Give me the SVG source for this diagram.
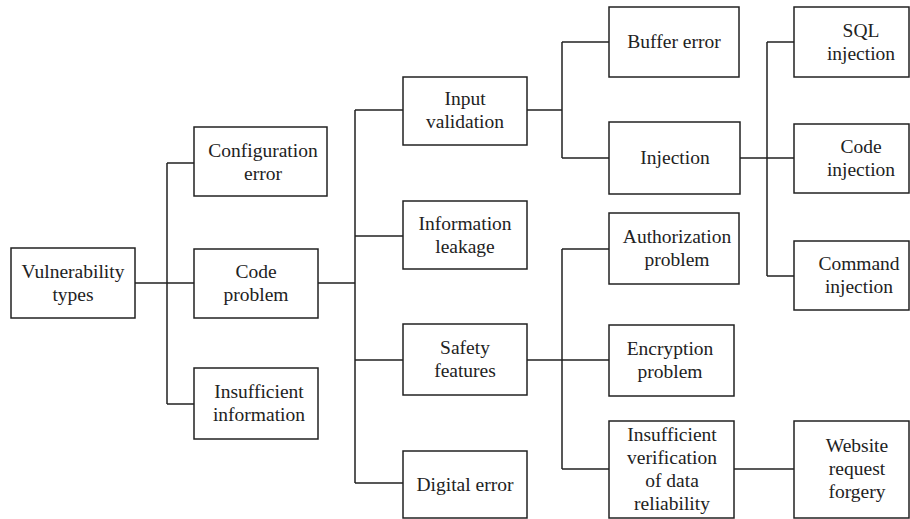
<svg xmlns="http://www.w3.org/2000/svg" width="910" height="519" viewBox="0 0 910 519">
<style>
rect{fill:#fff;stroke:#222;stroke-width:1.5}
text{font-family:'Liberation Serif','Times New Roman',serif;font-size:19.5px;fill:#222;text-anchor:middle}
.c path{fill:none;stroke:#222;stroke-width:1.5}
</style>
<rect x="0" y="0" width="910" height="519" style="fill:#fff;stroke:none"/>
<g class="c" id="connectors">
<path d="M135,283H194M167,163V404M167,163H194M167,404H194"/>
<path d="M318,283H355M355,110V483M355,110H403M355,236H403M355,360H403M355,483H403"/>
<path d="M527,110H562M562,42V158M562,42H609M562,158H609"/>
<path d="M527,360H609M562,249V469M562,249H609M562,469H609"/>
<path d="M740,158H794M767,42V276M767,42H794M767,276H794"/>
<path d="M734,469H794"/>
</g>
<g id="vt"><rect x="11" y="248" width="124" height="70"/><text x="73" y="278">Vulnerability</text><text x="73" y="301">types</text></g>
<g id="cfg"><rect x="194" y="127" width="133" height="69"/><text x="263" y="157">Configuration</text><text x="263" y="180">error</text></g>
<g id="code"><rect x="194" y="249" width="124" height="69"/><text x="256" y="278">Code</text><text x="256" y="301">problem</text></g>
<g id="insuf"><rect x="194" y="368" width="124" height="71"/><text x="259" y="398">Insufficient</text><text x="259" y="421">information</text></g>
<g id="input"><rect x="403" y="77" width="124" height="68"/><text x="465" y="105">Input</text><text x="465" y="128">validation</text></g>
<g id="leak"><rect x="403" y="201" width="124" height="68"/><text x="465" y="230">Information</text><text x="465" y="253">leakage</text></g>
<g id="safety"><rect x="403" y="324" width="124" height="71"/><text x="465" y="354">Safety</text><text x="465" y="377">features</text></g>
<g id="digital"><rect x="403" y="451" width="124" height="67"/><text x="465" y="491">Digital error</text></g>
<g id="buffer"><rect x="609" y="7" width="130" height="70"/><text x="674" y="48">Buffer error</text></g>
<g id="injection"><rect x="609" y="122" width="131" height="72"/><text x="675" y="164">Injection</text></g>
<g id="auth"><rect x="609" y="213" width="130" height="71"/><text x="677" y="243">Authorization</text><text x="677" y="266">problem</text></g>
<g id="enc"><rect x="609" y="325" width="125" height="71"/><text x="670" y="355">Encryption</text><text x="670" y="378">problem</text></g>
<g id="verif"><rect x="609" y="421" width="125" height="97"/><text x="672" y="441">Insufficient</text><text x="672" y="464">verification</text><text x="672" y="487">of data</text><text x="672" y="510">reliability</text></g>
<g id="sql"><rect x="794" y="7" width="115" height="70"/><text x="861" y="37">SQL</text><text x="861" y="60">injection</text></g>
<g id="codeinj"><rect x="794" y="124" width="115" height="69"/><text x="861" y="153">Code</text><text x="861" y="176">injection</text></g>
<g id="cmd"><rect x="794" y="241" width="115" height="69"/><text x="859" y="270">Command</text><text x="859" y="293">injection</text></g>
<g id="web"><rect x="794" y="421" width="115" height="97"/><text x="857" y="452">Website</text><text x="857" y="475">request</text><text x="857" y="498">forgery</text></g>
</svg>
